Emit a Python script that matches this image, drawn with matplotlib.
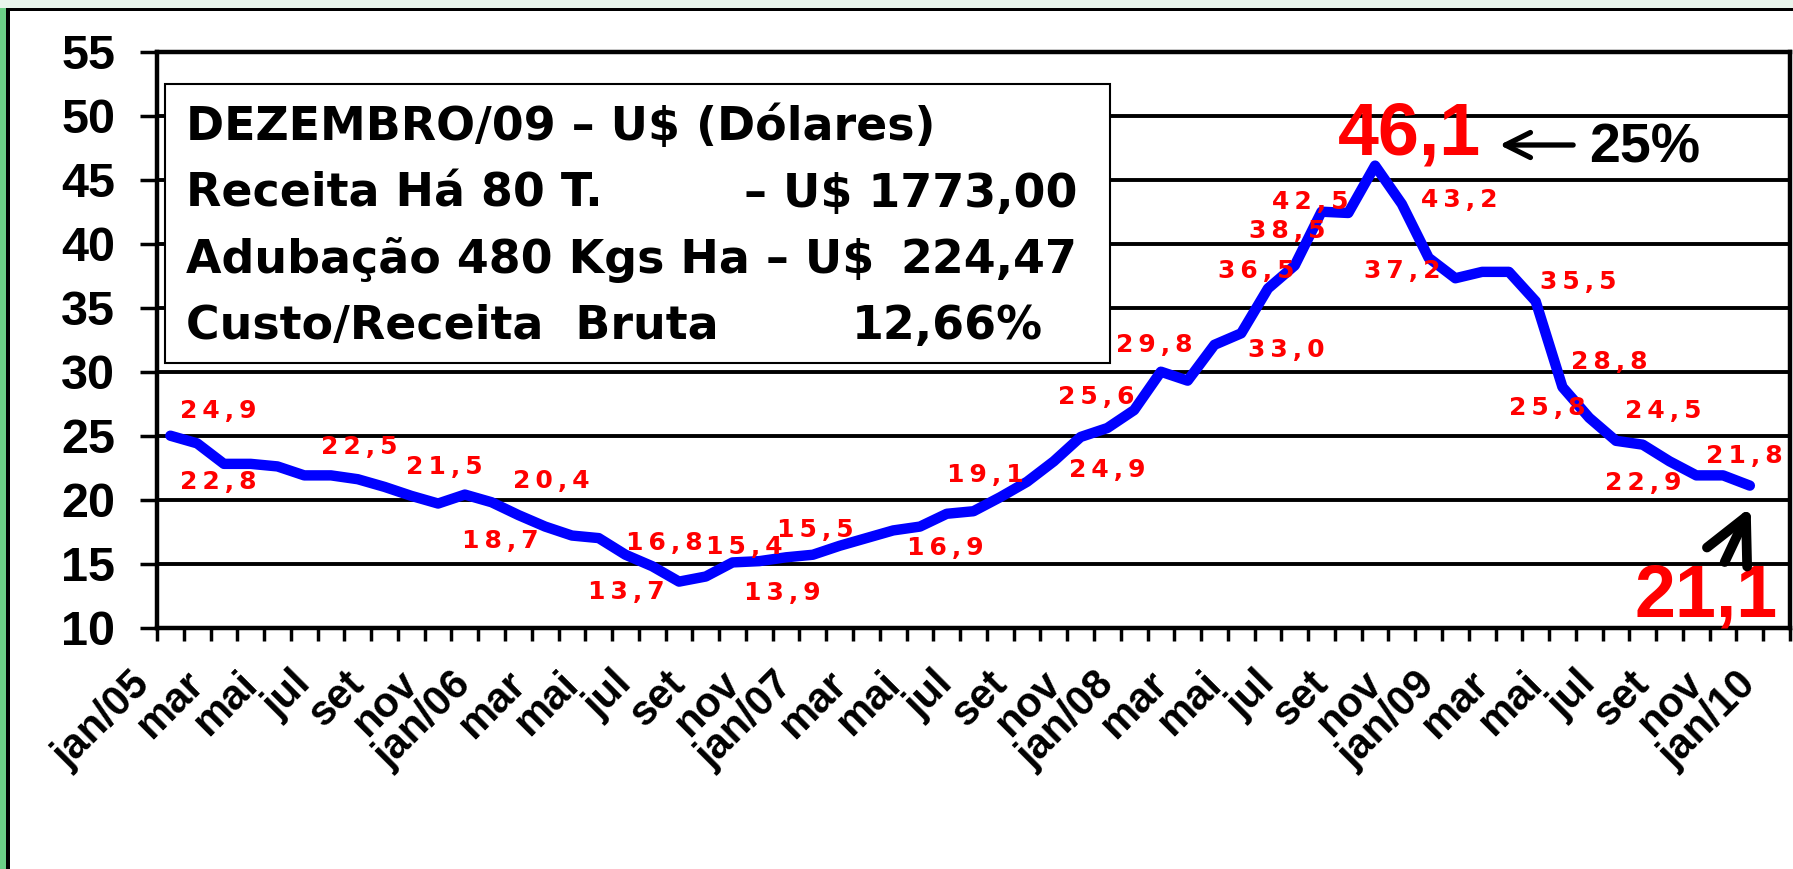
import matplotlib
matplotlib.use("Agg")
import matplotlib.pyplot as plt
from matplotlib.patches import Rectangle
from matplotlib.transforms import ScaledTranslation

plt.rcParams['font.family'] = ['Liberation Sans', 'DejaVu Sans']

# eixo x: um rotulo a cada 2 meses (jan/05 .. jan/10)
meses = ["jan/05", "mar", "mai", "jul", "set", "nov",
         "jan/06", "mar", "mai", "jul", "set", "nov",
         "jan/07", "mar", "mai", "jul", "set", "nov",
         "jan/08", "mar", "mai", "jul", "set", "nov",
         "jan/09", "mar", "mai", "jul", "set", "nov",
         "jan/10"]

# preco mensal U$ (jan/05 .. dez/09)
precos = [25.0, 24.4, 22.8, 22.8, 22.6, 21.9, 21.9, 21.6, 21.0, 20.3, 19.7, 20.4,
          19.8, 18.8, 17.9, 17.2, 17.0, 15.7, 14.8, 13.6, 14.0, 15.1, 15.2, 15.5,
          15.7, 16.4, 17.0, 17.6, 17.9, 18.9, 19.1, 20.2, 21.4, 23.0, 24.9, 25.6,
          27.0, 30.0, 29.3, 32.1, 33.0, 36.5, 38.3, 42.5, 42.4, 46.1, 43.1, 38.9,
          37.3, 37.8, 37.8, 35.5, 28.8, 26.4, 24.6, 24.3, 23.0, 21.9, 21.9, 21.1]

# rotulos vermelhos (texto, posicao x, posicao y)
rot_txt = ["24,9", "22,8", "22,5", "21,5", "20,4", "18,7", "13,7", "16,8", "15,4",
           "13,9", "15,5", "16,9", "19,1", "24,9", "25,6", "29,8", "33,0", "36,5",
           "38,5", "42,5", "43,2", "37,2", "35,5", "28,8", "25,8", "24,5", "22,9", "21,8"]
rot_x = [1.79, 1.79, 7.04, 10.24, 14.23, 12.33, 17.02, 18.45, 21.45,
         22.87, 24.10, 28.94, 30.43, 35.01, 34.60, 36.76, 41.68, 40.56,
         41.71, 42.57, 48.16, 46.03, 52.59, 53.74, 51.43, 55.75, 55.01, 58.81]
rot_y = [26.93, 21.38, 24.12, 22.55, 21.46, 16.77, 12.79, 16.62, 16.30,
         12.71, 17.63, 16.23, 21.93, 22.32, 28.02, 32.09, 31.70, 37.87,
         40.99, 43.26, 43.41, 37.87, 37.01, 30.76, 27.17, 26.93, 21.30, 23.41]

fig = plt.figure(figsize=(17.93, 8.69), dpi=100)
fig.patch.set_facecolor('white')

# moldura do slide
fig.patches.append(Rectangle((0, 1 - 8 / 869), 1, 8 / 869, transform=fig.transFigure,
                             facecolor='#e8f5ec', edgecolor='none'))
fig.patches.append(Rectangle((0, 1 - 11 / 869), 1, 3 / 869, transform=fig.transFigure,
                             facecolor='black', edgecolor='none'))
fig.patches.append(Rectangle((0, 0), 6 / 1793, 1 - 8 / 869, transform=fig.transFigure,
                             facecolor='#6ccf86', edgecolor='none'))
fig.patches.append(Rectangle((6 / 1793, 0), 4 / 1793, 1 - 8 / 869, transform=fig.transFigure,
                             facecolor='black', edgecolor='none'))

ax = fig.add_axes([157 / 1793, 1 - 627.7 / 869, (1790 - 157) / 1793, 576 / 869])

ax.plot(range(len(precos)), precos, color='#0000ff', lw=7.5,
        solid_joinstyle='round', solid_capstyle='round', zorder=4)

ax.set_xlim(-0.5, 60.5)
ax.set_ylim(10, 55)
ax.set_yticks(range(10, 56, 5))
ax.yaxis.grid(True, color='black', lw=2.8)
ax.set_axisbelow(True)
for s in ax.spines.values():
    s.set_linewidth(3.2)
    s.set_color('black')

# marcas entre categorias, rotulos no centro
ax.set_xticks([i - 0.5 for i in range(62)])
ax.tick_params(axis='x', which='major', direction='out', length=9.5, width=2.5,
               labelbottom=False)
ax.set_xticks(range(0, 61, 2), minor=True)
ax.set_xticklabels(meses, minor=True, rotation=45, ha='right', va='top',
                   fontsize=30, fontweight='bold')
ax.tick_params(axis='x', which='minor', length=0, pad=26)
shift = ScaledTranslation(-0.12, 0, fig.dpi_scale_trans)
for lbl in ax.get_xticklabels(minor=True):
    lbl.set_transform(lbl.get_transform() + shift)
ax.tick_params(axis='y', direction='out', length=12, width=2.5, pad=18)
for lbl in ax.get_yticklabels():
    lbl.set_fontsize(35)
    lbl.set_fontweight('bold')

# quadro de texto
ax.add_patch(Rectangle((0.0049, 0.4595), 0.5787, 0.4844, transform=ax.transAxes,
                       facecolor='white', edgecolor='black', lw=1.5, zorder=5))
box_font = dict(family='DejaVu Sans', fontsize=33, fontweight='bold', zorder=6,
                transform=ax.transAxes, va='baseline')
ax.text(0.0178, 0.8467, "DEZEMBRO/09 – U$ (Dólares)", ha='left', **box_font)
ax.text(0.0178, 0.7304, "Receita Há 80 T.", ha='left', **box_font)
ax.text(0.5634, 0.7304, "– U$ 1773,00", ha='right', **box_font)
ax.text(0.0178, 0.6158, "Adubação 480 Kgs Ha – U$", ha='left', **box_font)
ax.text(0.5634, 0.6158, "224,47", ha='right', **box_font)
ax.text(0.0178, 0.5012, "Custo/Receita  Bruta", ha='left', **box_font)
ax.text(0.5426, 0.5012, "12,66%", ha='right', **box_font)

for t, x, y in zip(rot_txt, rot_x, rot_y):
    ax.text(x, y, "\u2009".join(t), color='red', family='DejaVu Sans', fontsize=18,
            fontweight='bold', ha='center', va='center', zorder=7)

ax.text(46.29, 46.93, "46,1", color='red', fontsize=53, fontweight='bold',
        ha='center', va='baseline', zorder=7)
ax.text(57.36, 10.84, "21,1", color='red', fontsize=53, fontweight='bold',
        ha='center', va='baseline', zorder=7)
ax.text(55.08, 46.38, "25%", color='black', fontsize=40, fontweight='bold',
        ha='center', va='baseline', zorder=7)

ax.annotate('', xy=(49.65, 47.71), xytext=(52.4, 47.71),
            arrowprops=dict(arrowstyle='->,head_length=0.9,head_width=0.45',
                            lw=3.8, color='black', mutation_scale=20,
                            shrinkA=0, shrinkB=0), zorder=7)
ax.annotate('', xy=(59.03, 19.43), xytext=(58.06, 15.13),
            arrowprops=dict(arrowstyle='->,head_length=1.6,head_width=0.8',
                            lw=7, color='black', mutation_scale=20,
                            shrinkA=0, shrinkB=0), zorder=7)

fig.savefig('out.png', dpi=100)
